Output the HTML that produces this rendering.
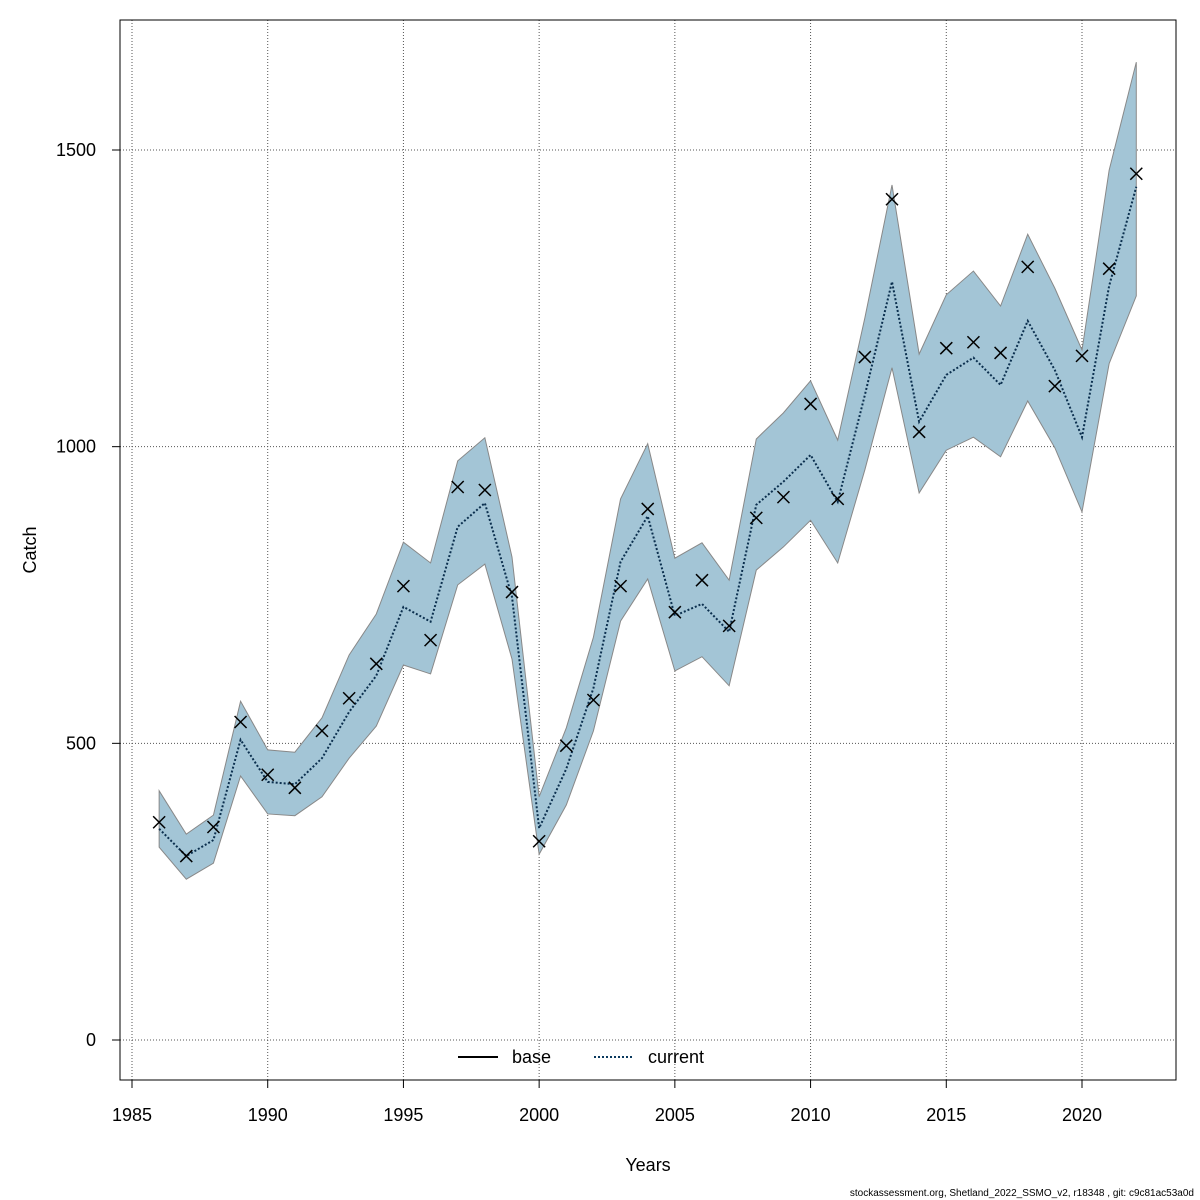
<!DOCTYPE html>
<html><head><meta charset="utf-8"><style>
body{margin:0;background:#fff;}
svg{display:block;font-family:"Liberation Sans",sans-serif;}
</style></head><body>
<svg id="chart" width="1200" height="1200">
<g id="grid"></g>
<g id="band"></g>
<g id="lines"></g>
<g id="obs"></g>
<g id="axes"></g>
<rect x="120" y="20" width="1056" height="1060" fill="none" stroke="#000" stroke-width="1"/>
<text x="36" y="550" font-size="18" text-anchor="middle" transform="rotate(-90 36 550)">Catch</text>
<text x="648" y="1171" font-size="18" text-anchor="middle">Years</text>
<g>
<line x1="458" y1="1057" x2="498" y2="1057" stroke="#000" stroke-width="2"/>
<text x="512" y="1063" font-size="18">base</text>
<line x1="594" y1="1057" x2="634" y2="1057" stroke="#0b3a5e" stroke-width="2" stroke-dasharray="2,2"/>
<text x="648" y="1063" font-size="18">current</text>
</g>
<text x="1194" y="1196" font-size="10" text-anchor="end">stockassessment.org, Shetland_2022_SSMO_v2, r18348 , git: c9c81ac53a0d</text>
</svg>
<script>
const years=[1986,1987,1988,1989,1990,1991,1992,1993,1994,1995,1996,1997,1998,1999,2000,2001,2002,2003,2004,2005,2006,2007,2008,2009,2010,2011,2012,2013,2014,2015,2016,2017,2018,2019,2020,2021,2022];
const observed=[367,310,359,536,447,425,521,576,634,765,674,932,927,755,335,496,573,765,895,721,775,698,880,915,1072,912,1151,1417,1025,1166,1176,1158,1303,1102,1153,1300,1460];
const fitted=[356,310,337,506,435,431,475,553,614,730,705,865,905,747,357,457,593,806,883,715,735,688,902,941,986,907,1087,1278,1042,1121,1150,1104,1212,1129,1016,1271,1438];
const upper=[420,347,379,571,489,485,543,649,718,839,804,976,1015,814,410,526,679,912,1005,812,838,775,1013,1057,1111,1011,1217,1441,1156,1256,1296,1237,1358,1267,1163,1466,1648];
const lower=[325,271,298,445,381,378,410,475,529,632,617,767,802,642,313,396,521,706,777,622,646,597,792,831,876,804,961,1133,922,994,1016,983,1077,998,890,1140,1254];
const xTicks=[1985,1990,1995,2000,2005,2010,2015,2020];
const yTicks=[0,500,1000,1500];
const NS='http://www.w3.org/2000/svg';
const xs=v=>132+(v-1985)*(1082-132)/35;
const ys=v=>1040-v*(1040-150)/1500;
function mk(tag,attrs,parent){const e=document.createElementNS(NS,tag);for(const k in attrs)e.setAttribute(k,attrs[k]);document.getElementById(parent).appendChild(e);return e;}
xTicks.forEach(t=>{
 const g=mk('line',{x1:xs(t),x2:xs(t),y1:20,y2:1080,stroke:'#555','stroke-dasharray':'1,2'},'grid');
 
 
 const tk=mk('line',{x1:xs(t),x2:xs(t),y1:1080,y2:1088,stroke:'#000'},'axes');
 
 
 const lb=mk('text',{x:xs(t),y:1121,'font-size':18,'text-anchor':'middle'},'axes');lb.textContent=t;
 
 
});
yTicks.forEach(t=>{
 const g=mk('line',{x1:120,x2:1176,y1:ys(t),y2:ys(t),stroke:'#555','stroke-dasharray':'1,2'},'grid');
 
 
 const tk=mk('line',{x1:112,x2:120,y1:ys(t),y2:ys(t),stroke:'#000'},'axes');
 
 
 const lb=mk('text',{x:96,y:ys(t)+6,'font-size':18,'text-anchor':'end'},'axes');lb.textContent=t;
 
 
});
let pts=years.map((y,i)=>xs(y)+','+ys(upper[i]));
pts=pts.concat(years.map((y,i)=>xs(y)+','+ys(lower[i])).reverse());
const poly=mk('polygon',{points:pts.join(' '),fill:'#a3c5d6',stroke:'#888','stroke-width':1},'band');


const line=mk('polyline',{points:years.map((y,i)=>xs(y)+','+ys(fitted[i])).join(' '),fill:'none',stroke:'#0b2f4e','stroke-width':2,'stroke-dasharray':'2,2'},'lines');


years.forEach((y,i)=>{
 const cx=xs(y),cy=ys(observed[i]),r=6;
 const p=mk('path',{d:`M${cx-r},${cy-r}L${cx+r},${cy+r}M${cx-r},${cy+r}L${cx+r},${cy-r}`,stroke:'#000','stroke-width':1.5},'obs');
 
 
});
</script>
</body></html>
